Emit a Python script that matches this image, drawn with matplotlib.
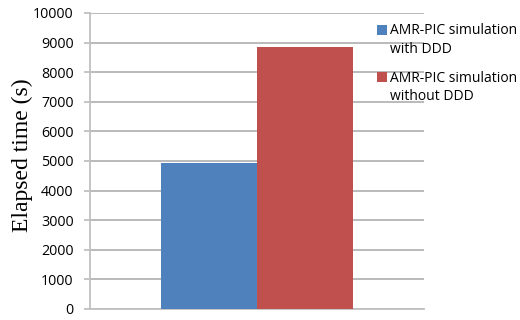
import matplotlib
matplotlib.use("Agg")
import matplotlib.pyplot as plt
from matplotlib.patches import Rectangle

series_labels = ["AMR-PIC simulation\nwith DDD", "AMR-PIC simulation\nwithout DDD"]
elapsed = [4940, 8850]
colors = ["#4f81bd", "#c0504d"]
yticks = list(range(0, 10001, 1000))

W, H = 520, 320
fig = plt.figure(figsize=(W / 100, H / 100), dpi=100)
ax = fig.add_axes([90 / W, 1 - 309 / H, (424 - 90) / W, (309 - 13) / H])

width = 0.288
offsets = [-width / 2, width / 2]
for off, val, col, lab in zip(offsets, elapsed, colors, series_labels):
    ax.bar(0.5 + off, val, width=width, color=col, label=lab, zorder=3)

ax.set_xlim(0, 1)
ax.set_ylim(0, 10000)
ax.set_yticks(yticks)
ax.set_yticklabels([str(t) for t in yticks], fontfamily="Open Sans", fontsize=10.3)
ax.set_xticks([])
ax.grid(axis="y", color="#b4b4b4", linewidth=1.3, zorder=0)
for s in ["top", "right"]:
    ax.spines[s].set_visible(False)
for s in ["bottom", "left"]:
    ax.spines[s].set_color("#c0c0c0")
    ax.spines[s].set_linewidth(1.3)
ax.tick_params(axis="y", length=4.3, color="#c0c0c0", width=1.3, pad=7.5)

ax.set_ylabel("Elapsed time (s)", fontfamily="Liberation Serif", fontsize=17)
ax.yaxis.set_label_coords(-0.17, 0.52)

# legend entries: square swatch sitting on the first text line's baseline
first_baselines = [34.5, 82.0]
line_gap = 18.5
for base, col, lab in zip(first_baselines, colors, series_labels):
    fig.patches.append(Rectangle((376.5 / W, 1 - base / H), 10 / W, 10 / H,
                                 transform=fig.transFigure, facecolor=col,
                                 edgecolor="none", figure=fig))
    for i, line in enumerate(lab.split("\n")):
        fig.text(390 / W, 1 - (base + i * line_gap) / H, line, ha="left",
                 va="baseline", fontfamily="Open Sans", fontsize=10)

fig.savefig("out.png", dpi=100)
